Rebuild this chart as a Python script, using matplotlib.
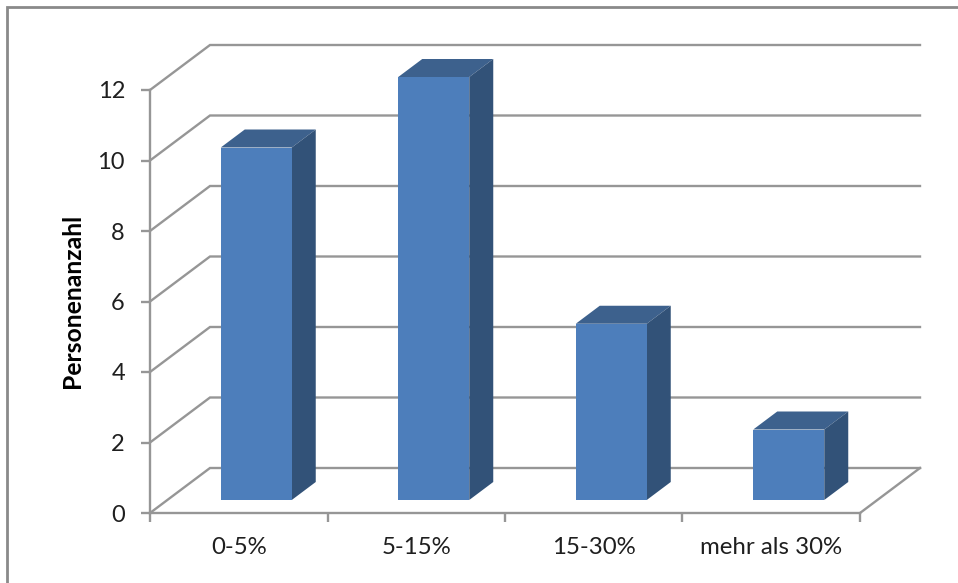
import matplotlib
matplotlib.use("Agg")
import matplotlib.pyplot as plt
from matplotlib.lines import Line2D
from matplotlib.patches import Polygon

plt.rcParams["font.family"] = ["Lato", "DejaVu Sans"]

categories = ["0-5%", "5-15%", "15-30%", "mehr als 30%"]
persons = [10, 12, 5, 2]
value_ticks = [0, 2, 4, 6, 8, 10, 12]
axis_title = "Personenanzahl"

W, H = 958, 583
FRONT_COLOR = "#4d7ebb"
TOP_COLOR = "#3d618d"
SIDE_COLOR = "#325278"
GRID_COLOR = "#969696"
TEXT_COLOR = "#1f1f1f"

# Plot rectangle in pixels: the front plane of the 3-D box.
LEFT, RIGHT, BOTTOM, TOP = 150, 860, 513, 90

fig = plt.figure(figsize=(W / 100, H / 100), dpi=100)
ax = fig.add_axes([LEFT / W, 1 - BOTTOM / H, (RIGHT - LEFT) / W, (BOTTOM - TOP) / H])
ax.set_xlim(0, len(categories))
ax.set_ylim(0, 12)
ax.patch.set_visible(False)

x_unit = (RIGHT - LEFT) / len(categories)
y_unit = (BOTTOM - TOP) / 12


def sheared(x, y, dx_px, dy_px):
    """Shift a data point by a depth offset given in pixels."""
    return x + dx_px / x_unit, y + dy_px / y_unit


# Depth of the chart box and of the bars within it.
BOX_DX, BOX_DY = 60, 45
BAR_FRONT_DX, BAR_FRONT_DY = 17.5, 13
BAR_BACK_DX, BAR_BACK_DY = 41.5, 31
BAR_WIDTH = 0.4

# Gridlines run along the side wall and then across the back wall.
for value in value_ticks:
    corner = sheared(0, value, BOX_DX, BOX_DY)
    end = sheared(len(categories), value, BOX_DX, BOX_DY)
    ax.plot([0, corner[0], end[0]], [value, corner[1], end[1]],
            color=GRID_COLOR, lw=1.7, clip_on=False, zorder=1,
            solid_joinstyle="miter")

# Right edge of the floor.
floor_end = sheared(len(categories), 0, BOX_DX, BOX_DY)
ax.plot([len(categories), floor_end[0]], [0, floor_end[1]],
        color=GRID_COLOR, lw=1.7, clip_on=False, zorder=1)

# Bars: front face plus sheared top and side faces.
for i, value in enumerate(persons):
    x0 = i + 0.5 - BAR_WIDTH / 2
    x1 = i + 0.5 + BAR_WIDTH / 2
    fx0, fy0 = sheared(x0, 0, BAR_FRONT_DX, BAR_FRONT_DY)
    fx1, fy1 = sheared(x1, value, BAR_FRONT_DX, BAR_FRONT_DY)
    bx0, by0 = sheared(x0, 0, BAR_BACK_DX, BAR_BACK_DY)
    bx1, by1 = sheared(x1, value, BAR_BACK_DX, BAR_BACK_DY)
    ax.bar(fx0, value, width=fx1 - fx0, bottom=fy0, align="edge",
           color=FRONT_COLOR, linewidth=0, clip_on=False, zorder=4)
    ax.add_patch(Polygon([(fx0, fy1), (fx1, fy1), (bx1, by1), (bx0, by1)],
                         closed=True, facecolor=TOP_COLOR, edgecolor="none",
                         clip_on=False, zorder=3))
    ax.add_patch(Polygon([(fx1, fy0), (bx1, by0), (bx1, by1), (fx1, fy1)],
                         closed=True, facecolor=SIDE_COLOR, edgecolor="none",
                         clip_on=False, zorder=3))

# Axes, ticks and labels.
for side in ("top", "right"):
    ax.spines[side].set_visible(False)
for side in ("left", "bottom"):
    ax.spines[side].set_color(GRID_COLOR)
    ax.spines[side].set_linewidth(1.7)
    ax.spines[side].set_zorder(5)

ax.set_yticks(value_ticks)
ax.set_xticks(range(len(categories) + 1))
ax.set_xticklabels([])
ax.set_xticks([i + 0.5 for i in range(len(categories))], minor=True)
ax.set_xticklabels(categories, minor=True)
ax.tick_params(axis="y", length=6.5, width=1.7, color=GRID_COLOR, pad=11.5,
               labelsize=17, labelcolor=TEXT_COLOR)
ax.tick_params(axis="x", which="major", length=6.5, width=1.7, color=GRID_COLOR)
ax.tick_params(axis="x", which="minor", length=0, pad=17.5,
               labelsize=17.3, labelcolor=TEXT_COLOR)

fig.text(73 / W, 1 - 300.5 / H, axis_title, rotation=90, ha="center", va="center",
         fontsize=17.8, fontweight="bold", color="#000000")

# Chart frame along the left and top edges.
frame_x, frame_y = 7 / W, 1 - 7 / H
fig.add_artist(Line2D([frame_x, frame_x, 1], [0, frame_y, frame_y],
                      color="#8a8a8a", lw=2, solid_joinstyle="miter"))

fig.savefig("out.png", dpi=100, facecolor="white")
